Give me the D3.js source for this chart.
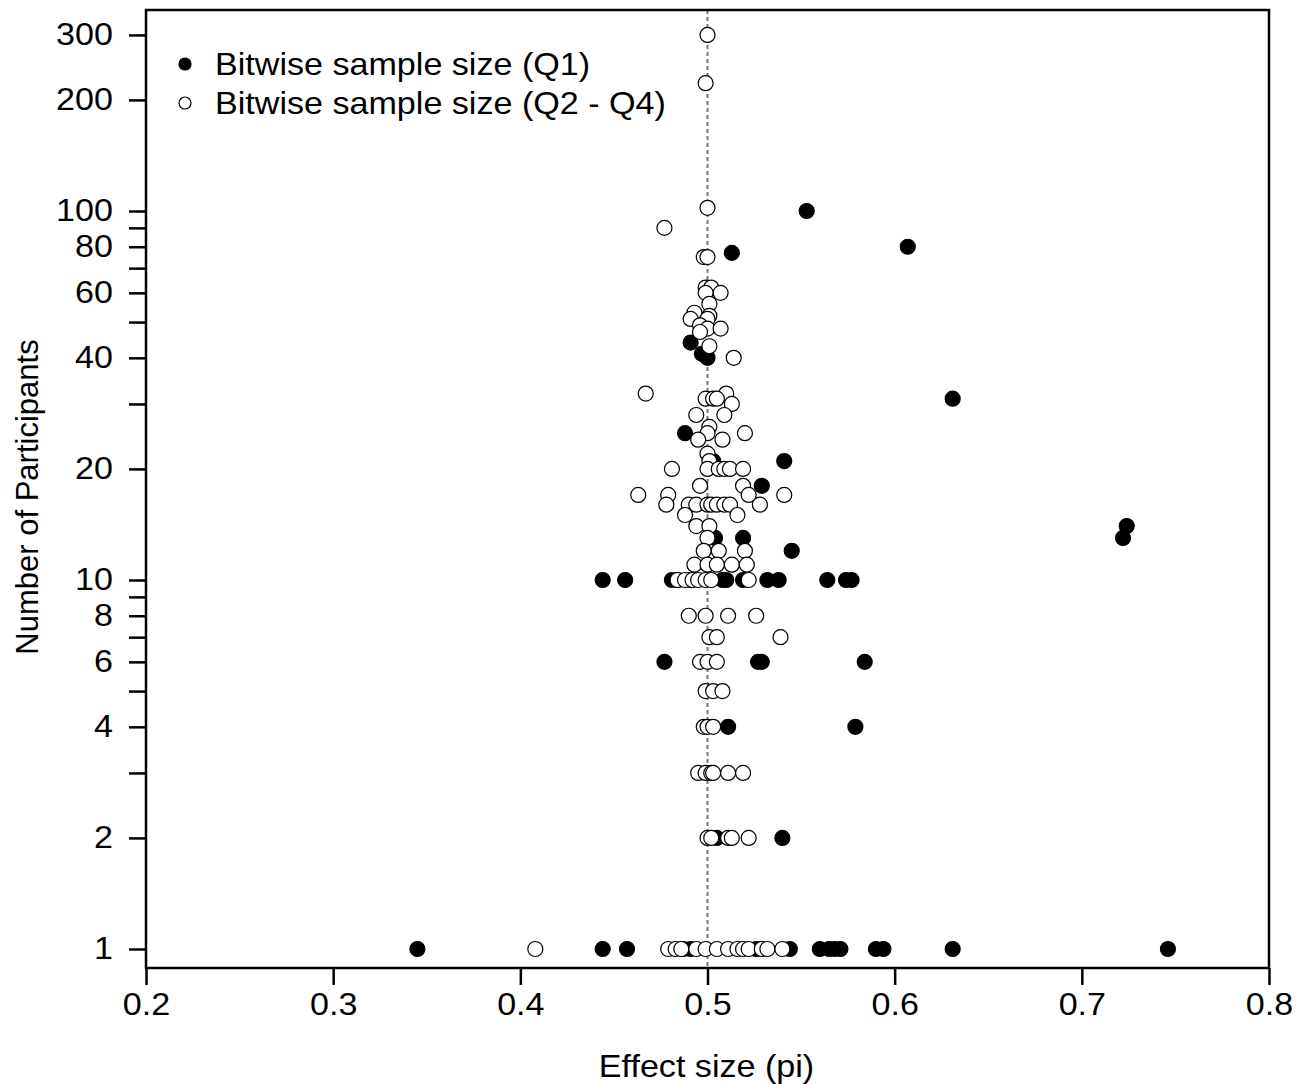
<!DOCTYPE html>
<html>
<head>
<meta charset="utf-8">
<script src="https://cdnjs.cloudflare.com/ajax/libs/d3/7.8.5/d3.min.js"></script>
<style>
  body { margin: 0; background: #fff; }
  text { font-family: Arial, "Liberation Sans", sans-serif; fill: #000; }
</style>
</head>
<body>
<script>
// Q1 sample sizes (filled markers)
var q1Effect = [0.553, 0.607, 0.513, 0.631, 0.724, 0.722, 0.491, 0.497, 0.500, 0.488,
  0.503, 0.541, 0.529, 0.504, 0.519, 0.545,
  0.444, 0.456, 0.481, 0.484, 0.491, 0.508, 0.510, 0.519, 0.532, 0.538, 0.564, 0.574, 0.577,
  0.477, 0.527, 0.529, 0.584,
  0.511, 0.579,
  0.505, 0.540,
  0.345, 0.444, 0.457, 0.487, 0.491, 0.526, 0.529, 0.544, 0.560, 0.565, 0.568, 0.571, 0.590, 0.594, 0.631, 0.746];
var q1N = [100, 80, 77, 31, 14, 13, 44, 41, 40, 25,
  21, 21, 18, 13, 13, 12,
  10, 10, 10, 10, 10, 10, 10, 10, 10, 10, 10, 10, 10,
  6, 6, 6, 6,
  4, 4,
  2, 2,
  1, 1, 1, 1, 1, 1, 1, 1, 1, 1, 1, 1, 1, 1, 1, 1];

// Q2 - Q4 sample sizes (open markers)
var otherEffect = [0.500, 0.499, 0.500, 0.477, 0.498, 0.500, 0.499, 0.502, 0.507, 0.499,
  0.501, 0.501, 0.493, 0.491, 0.500, 0.496, 0.500, 0.507, 0.496, 0.501, 0.514,
  0.467, 0.510, 0.499, 0.503, 0.505, 0.513, 0.494, 0.509, 0.501, 0.500, 0.520, 0.495, 0.508,
  0.500, 0.501, 0.481, 0.500, 0.506, 0.509, 0.512, 0.519,
  0.496, 0.519, 0.463, 0.479, 0.522, 0.541,
  0.478, 0.490, 0.494, 0.500, 0.502, 0.505, 0.509, 0.512, 0.528,
  0.488, 0.516, 0.494, 0.501, 0.500, 0.498, 0.506, 0.520,
  0.493, 0.500, 0.505, 0.513, 0.521,
  0.484, 0.488, 0.492, 0.495, 0.499, 0.502, 0.522,
  0.490, 0.499, 0.511, 0.526, 0.501, 0.505, 0.539,
  0.496, 0.500, 0.505, 0.499, 0.503, 0.508, 0.498, 0.500, 0.503,
  0.495, 0.499, 0.502, 0.503, 0.511, 0.519,
  0.500, 0.502, 0.511, 0.513, 0.522,
  0.408, 0.479, 0.483, 0.486, 0.494, 0.499, 0.505, 0.511, 0.516, 0.519, 0.522, 0.529, 0.532, 0.540];
var otherN = [300, 222, 102, 90, 75, 75, 62, 62, 60, 60,
  56, 52, 53, 51, 51, 49, 48, 48, 47, 43, 40,
  32, 32, 31, 31, 31, 30, 28, 28, 26, 25, 25, 24, 24,
  22, 21, 20, 20, 20, 20, 20, 20,
  18, 18, 17, 17, 17, 17,
  16, 16, 16, 16, 16, 16, 16, 16, 16,
  15, 15, 14, 14, 13, 12, 12, 12,
  11, 11, 11, 11, 11,
  10, 10, 10, 10, 10, 10, 10,
  8, 8, 8, 8, 7, 7, 7,
  6, 6, 6, 5, 5, 5, 4, 4, 4,
  3, 3, 3, 3, 3, 3,
  2, 2, 2, 2, 2,
  1, 1, 1, 1, 1, 1, 1, 1, 1, 1, 1, 1, 1, 1];

var xTicks = [0.2, 0.3, 0.4, 0.5, 0.6, 0.7, 0.8];
var yTicks = [1, 2, 3, 4, 5, 6, 7, 8, 9, 10, 20, 30, 40, 50, 60, 70, 80, 90, 100, 200, 300];
var yLabels = [1, 2, 4, 6, 8, 10, 20, 40, 60, 80, 100, 200, 300];
var legendNames = ["Bitwise sample size (Q1)", "Bitwise sample size (Q2 - Q4)"];

var W = 1309, H = 1084;
var pLeft = 146, pTop = 10, pRight = 1269, pBottom = 968;
var stretch = 1.1; // the source text is a little wide

var svg = d3.select("body").append("svg")
  .attr("width", W)
  .attr("height", H);

var x = d3.scaleLinear().domain([0.2, 0.8]).range([pLeft, pRight]);
var y = d3.scaleLog().domain([0.8882, 350.5]).range([pBottom, pTop]);

// reference line at 0.5
svg.append("line")
  .attr("x1", x(0.5)).attr("x2", x(0.5))
  .attr("y1", pTop).attr("y2", pBottom)
  .attr("stroke", "#777")
  .attr("stroke-width", 2)
  .attr("stroke-dasharray", "4,3");

// points: Q1 first, open ones on top
var q1 = q1Effect.map(function(d, i) { return {x: d, n: q1N[i]}; });
var other = otherEffect.map(function(d, i) { return {x: d, n: otherN[i]}; });

svg.append("g").selectAll("circle")
  .data(q1)
  .enter()
  .append("circle")
  .attr("cx", function(d) { return x(d.x); })
  .attr("cy", function(d) { return y(d.n); })
  .attr("r", 7.5)
  .attr("fill", "#000")
  .attr("stroke", "#000")
  .attr("stroke-width", 1.2);

svg.append("g").selectAll("circle")
  .data(other)
  .enter()
  .append("circle")
  .attr("cx", function(d) { return x(d.x); })
  .attr("cy", function(d) { return y(d.n); })
  .attr("r", 7.5)
  .attr("fill", "#fff")
  .attr("stroke", "#000")
  .attr("stroke-width", 1.2);

// axes
var xAxis = d3.axisBottom(x).tickValues(xTicks).tickSize(17).tickPadding(8)
  .tickFormat(d3.format(".1f"));
var gx = svg.append("g").attr("transform", "translate(0," + pBottom + ")").call(xAxis);

var yAxis = d3.axisLeft(y).tickValues(yTicks).tickSize(17).tickPadding(13)
  .tickFormat(function(d) { return yLabels.indexOf(d) >= 0 ? d : ""; });
var gy = svg.append("g").attr("transform", "translate(" + pLeft + ",0)").call(yAxis);

[gx, gy].forEach(function(g) {
  g.select(".domain").remove();
  g.selectAll("line").attr("stroke", "#000").attr("stroke-width", 2.5);
  g.selectAll("text")
    .attr("font-size", 31)
    .attr("transform", "scale(" + stretch + ",1)")
    .style("font-family", "Arial, 'Liberation Sans', sans-serif");
});

// frame
svg.append("rect")
  .attr("x", pLeft).attr("y", pTop)
  .attr("width", pRight - pLeft).attr("height", pBottom - pTop)
  .attr("fill", "none")
  .attr("stroke", "#000")
  .attr("stroke-width", 2.5);

// axis titles
svg.append("text")
  .attr("transform", "translate(" + ((pLeft + pRight) / 2 - 1) + ",1077) scale(" + stretch + ",1)")
  .attr("text-anchor", "middle")
  .attr("font-size", 31)
  .text("Effect size (pi)");

svg.append("text")
  .attr("transform", "translate(38,497) rotate(-90)")
  .attr("text-anchor", "middle")
  .attr("font-size", 31)
  .text("Number of Participants");

// legend
var legend = svg.append("g");
legendNames.forEach(function(name, i) {
  var ly = 64 + i * 39;
  legend.append("circle")
    .attr("cx", 185).attr("cy", ly)
    .attr("r", 6)
    .attr("fill", i == 0 ? "#000" : "#fff")
    .attr("stroke", "#000")
    .attr("stroke-width", 1.2);
  legend.append("text")
    .attr("transform", "translate(215," + (ly + 11) + ") scale(" + stretch + ",1)")
    .attr("font-size", 31)
    .text(name);
});
</script>
</body>
</html>
